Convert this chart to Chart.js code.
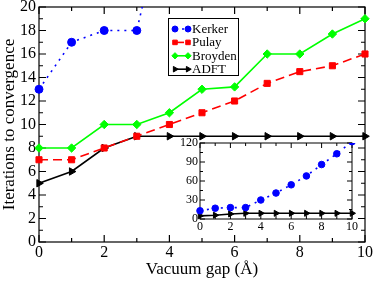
<!DOCTYPE html>
<html>
<head>
<meta charset="utf-8">
<script src="https://cdn.jsdelivr.net/npm/chart.js@4.4.1/dist/chart.umd.min.js"></script>
<style>
  body { margin: 0; background: #fff; }
  #wrap { position: relative; width: 374px; height: 282px; }
  #main { position: absolute; left: 0; top: 0; }
  #inset { position: absolute; left: 176px; top: 137px; }
</style>
</head>
<body>
<div id="wrap">
  <canvas id="main" width="374" height="282"></canvas>
  <canvas id="inset" width="182" height="99"></canvas>
</div>
<script>
'use strict';

// vacuum gap in angstrom
const gaps = [0, 1, 2, 3, 4, 5, 6, 7, 8, 9, 10];
const kerker = [13, 17, 18, 18, 30, 41, 54, 68, 86, 103, 122];
const pulay = [7, 7, 8, 9, 10, 11, 12, 13.5, 14.5, 15, 16];
const broyden = [8, 8, 10, 10, 11, 13, 13.2, 16, 16, 17.7, 19];
const adft = [5, 6, 8, 9, 9, 9, 9, 9, 9, 9, 9];

const mainYTicks = [0, 2, 4, 6, 8, 10, 12, 14, 16, 18, 20];
const mainXTicks = [0, 2, 4, 6, 8, 10];
const insetYTicks = [0, 30, 60, 90, 120];
const insetXTicks = [0, 2, 4, 6, 8, 10];

const serif = "'Liberation Serif', 'DejaVu Serif', serif";

function pts(ys) {
    return gaps.map((g, i) => ({ x: g, y: ys[i] }));
}

// inward ticks on all four sides, like xmgrace
const frameTicks = {
    id: 'frameTicks',
    beforeDatasetsDraw(chart, args, opts) {
        const { ctx, chartArea: a, scales: { x, y } } = chart;
        ctx.save();
        ctx.strokeStyle = '#000';
        ctx.lineWidth = opts.lw;
        ctx.strokeRect(a.left, a.top, a.right - a.left, a.bottom - a.top);
        ctx.beginPath();
        opts.xMajor.forEach(v => {
            const p = x.getPixelForValue(v);
            ctx.moveTo(p, a.bottom); ctx.lineTo(p, a.bottom - opts.major);
            ctx.moveTo(p, a.top); ctx.lineTo(p, a.top + opts.major);
        });
        opts.xMinor.forEach(v => {
            const p = x.getPixelForValue(v);
            ctx.moveTo(p, a.bottom); ctx.lineTo(p, a.bottom - opts.minor);
            ctx.moveTo(p, a.top); ctx.lineTo(p, a.top + opts.minor);
        });
        opts.yMajor.forEach(v => {
            const p = y.getPixelForValue(v);
            ctx.moveTo(a.left, p); ctx.lineTo(a.left + opts.major, p);
            ctx.moveTo(a.right, p); ctx.lineTo(a.right - opts.major, p);
        });
        opts.yMinor.forEach(v => {
            const p = y.getPixelForValue(v);
            ctx.moveTo(a.left, p); ctx.lineTo(a.left + opts.minor, p);
            ctx.moveTo(a.right, p); ctx.lineTo(a.right - opts.minor, p);
        });
        ctx.stroke();
        ctx.restore();
    }
};

// legend box drawn inside the plot
const boxLegend = {
    id: 'boxLegend',
    afterDraw(chart, args, opts) {
        if (!opts.show) return;
        const ctx = chart.ctx;
        ctx.save();
        ctx.fillStyle = '#fff';
        ctx.fillRect(168, 18, 70, 57);
        ctx.strokeStyle = '#000';
        ctx.lineWidth = 1;
        ctx.strokeRect(168.5, 18.5, 70, 57);
        chart.data.datasets.forEach((ds, i) => {
            const yy = 29 + i * 13.4;
            ctx.strokeStyle = ds.borderColor;
            ctx.lineWidth = ds.borderWidth;
            ctx.setLineDash(ds.borderDash || []);
            ctx.beginPath();
            ctx.moveTo(175, yy); ctx.lineTo(188, yy);
            ctx.stroke();
            ctx.setLineDash([]);
            ctx.fillStyle = ds.pointBackgroundColor;
            ctx.strokeStyle = ds.pointBorderColor;
            ctx.lineWidth = 1;
            [175, 188].forEach(px => {
                Chart.helpers.drawPoint(ctx, {
                    pointStyle: ds.pointStyle,
                    rotation: ds.pointRotation || 0,
                    radius: ds.pointRadius * 0.75,
                    borderWidth: 1
                }, px, yy);
            });
            ctx.fillStyle = '#000';
            ctx.font = '13px ' + serif;
            ctx.textBaseline = 'middle';
            ctx.fillText(ds.label, 192, yy + 0.5);
        });
        ctx.restore();
    }
};

function series(label, ys, color, style, r, dash, rot, clip) {
    return {
        label: label,
        data: pts(ys),
        borderColor: color,
        backgroundColor: color,
        pointBackgroundColor: color,
        pointBorderColor: color,
        pointBorderWidth: 1,
        pointStyle: style,
        pointRadius: r,
        pointRotation: rot,
        borderWidth: 1.6,
        borderDash: dash,
        borderCapStyle: 'butt',
        tension: 0,
        clip: clip
    };
}

const mainClip = { left: 8, right: 8, top: 0, bottom: 8 };
const noGrid = { display: false, drawTicks: false, tickLength: 0 };

new Chart(document.getElementById('main'), {
    type: 'line',
    data: {
        datasets: [
            series('Kerker', kerker, '#0000ff', 'circle', 4, [2, 5], 0, mainClip),
            series('Pulay', pulay, '#ff0000', 'rect', 4.3, [9, 5], 0, mainClip),
            series('Broyden', broyden, '#00ff00', 'rectRot', 4.2, [], 0, mainClip),
            series('ADFT', adft, '#000000', 'triangle', 4.3, [], 90, mainClip)
        ]
    },
    options: {
        responsive: false,
        animation: false,
        events: [],
        layout: { padding: { top: 7, right: 9, left: 0, bottom: 0 } },
        plugins: {
            legend: { display: false },
            tooltip: { enabled: false },
            frameTicks: {
                lw: 1.2, major: 7, minor: 4,
                xMajor: mainXTicks, xMinor: [1, 3, 5, 7, 9],
                yMajor: mainYTicks, yMinor: [1, 3, 5, 7, 9, 11, 13, 15, 17, 19]
            },
            boxLegend: { show: true }
        },
        scales: {
            x: {
                type: 'linear', min: 0, max: 10,
                grid: noGrid,
                border: { display: false },
                afterBuildTicks: s => { s.ticks = mainXTicks.map(v => ({ value: v })); },
                afterFit: s => { s.height = 40; s.paddingLeft = 0; s.paddingRight = 0; },
                ticks: { color: '#000', padding: 3, maxRotation: 0, font: { family: serif, size: 16, lineHeight: 1 } },
                title: { display: true, text: 'Vacuum gap (Å)', color: '#000', padding: { top: 0, bottom: 3.5 }, font: { family: serif, size: 17, lineHeight: 1 } }
            },
            y: {
                type: 'linear', min: 0, max: 20,
                grid: noGrid,
                border: { display: false },
                afterBuildTicks: s => { s.ticks = mainYTicks.map(v => ({ value: v })); },
                afterFit: s => { s.width = 39; s.paddingTop = 0; s.paddingBottom = 0; },
                ticks: { color: '#000', padding: 3, font: { family: serif, size: 16, lineHeight: 1 } },
                title: { display: true, text: 'Iterations to convergence', color: '#000', padding: { top: 1.5, bottom: 0 }, font: { family: serif, size: 17, lineHeight: 1 } }
            }
        }
    },
    plugins: [frameTicks, boxLegend]
});

const insetClip = { left: 8, right: 8, top: 0, bottom: 8 };

// inset: Kerker and ADFT on a larger range
new Chart(document.getElementById('inset'), {
    type: 'line',
    data: {
        datasets: [
            series('Kerker', kerker, '#0000ff', 'circle', 3.3, [2, 5], 0, insetClip),
            series('ADFT', adft, '#000000', 'triangle', 3.5, [], 90, insetClip)
        ]
    },
    options: {
        responsive: false,
        animation: false,
        events: [],
        layout: { padding: { top: 6, right: 6, left: 0, bottom: 0 } },
        plugins: {
            legend: { display: false },
            tooltip: { enabled: false },
            frameTicks: {
                lw: 1, major: 5, minor: 3,
                xMajor: insetXTicks, xMinor: [1, 3, 5, 7, 9],
                yMajor: insetYTicks, yMinor: [15, 45, 75, 105]
            },
            boxLegend: { show: false }
        },
        scales: {
            x: {
                type: 'linear', min: 0, max: 10,
                grid: noGrid,
                border: { display: false },
                afterBuildTicks: s => { s.ticks = insetXTicks.map(v => ({ value: v })); },
                afterFit: s => { s.height = 17; s.paddingLeft = 0; s.paddingRight = 0; },
                ticks: { color: '#000', padding: 2, maxRotation: 0, font: { family: serif, size: 12, lineHeight: 1 } }
            },
            y: {
                type: 'linear', min: 0, max: 120,
                grid: noGrid,
                border: { display: false },
                afterBuildTicks: s => { s.ticks = insetYTicks.map(v => ({ value: v })); },
                afterFit: s => { s.width = 24; s.paddingTop = 0; s.paddingBottom = 0; },
                ticks: { color: '#000', padding: 2, font: { family: serif, size: 12, lineHeight: 1 } }
            }
        }
    },
    plugins: [frameTicks, boxLegend]
});
</script>
</body>
</html>
